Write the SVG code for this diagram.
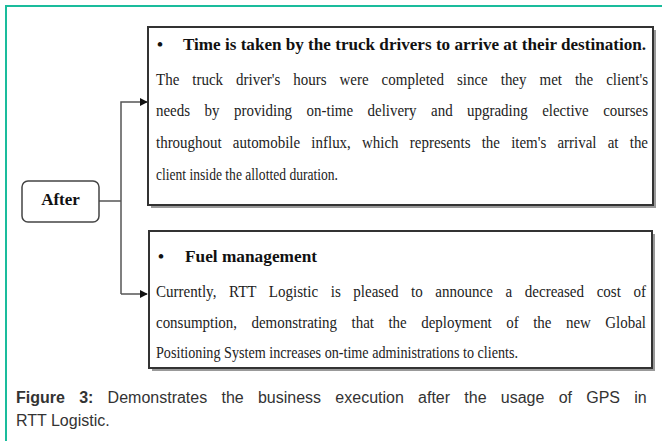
<svg xmlns="http://www.w3.org/2000/svg" width="662" height="441" viewBox="0 0 662 441">
<style>
.frame{fill:none;stroke:#1abc9c;stroke-width:2}
.box{fill:#fff;stroke:#333;stroke-width:2}
.shadow{fill:#999}
.node{fill:#fff;stroke:#444;stroke-width:1.5}
.conn{fill:none;stroke:#555;stroke-width:1.5}
.h{font-family:"Liberation Serif",serif;font-weight:bold;font-size:17px;fill:#111}
.b{font-family:"Liberation Serif",serif;font-size:17px;fill:#222}
.cap{font-family:"Liberation Sans",Arial,sans-serif;font-size:16px;fill:#333}
</style>
<defs>
<marker id="arr" viewBox="0 0 10 10" refX="9" refY="5" markerWidth="8" markerHeight="8" markerUnits="userSpaceOnUse" orient="auto">
<path d="M0,0 L10,5 L0,10 z" fill="#111"/>
</marker>
</defs>
<rect class="frame" x="6" y="6" width="670" height="450"/>
<g id="conns">
<path class="conn" d="M99,201 H121"/>
<path class="conn" d="M121,294 V102 H147" marker-end="url(#arr)"/>
<path class="conn" d="M121,294 H147" marker-end="url(#arr)"/>
</g>
<g id="after">
<rect class="node" x="22" y="181" width="77" height="41" rx="6"/>
<text class="h" x="60.5" y="205" text-anchor="middle" font-size="16">After</text>
</g>
<g id="box1">
<rect class="shadow" x="151" y="30" width="505" height="178"/>
<rect class="box" x="148" y="27" width="505" height="178"/>
<text class="h" x="157" y="50">•</text>
<text class="h" x="183" y="50" textLength="463" lengthAdjust="spacingAndGlyphs">Time is taken by the truck drivers to arrive at their destination.</text>
<text class="b" x="156" y="85" word-spacing="10.5" textLength="492" lengthAdjust="spacingAndGlyphs">The truck driver's hours were completed since they met the client's</text>
<text class="b" x="156" y="116" word-spacing="12.2" textLength="492" lengthAdjust="spacingAndGlyphs">needs by providing on-time delivery and upgrading elective courses</text>
<text class="b" x="156" y="148" word-spacing="8.5" textLength="492" lengthAdjust="spacingAndGlyphs">throughout automobile influx, which represents the item's arrival at the</text>
<text class="b" x="156" y="180" textLength="182" lengthAdjust="spacingAndGlyphs">client inside the allotted duration.</text>
</g>
<g id="box2">
<rect class="shadow" x="152" y="234" width="503" height="137"/>
<rect class="box" x="149" y="231" width="503" height="137"/>
<text class="h" x="158" y="262">•</text>
<text class="h" x="185" y="262" textLength="132" lengthAdjust="spacingAndGlyphs">Fuel management</text>
<text class="b" x="156" y="297" word-spacing="10" textLength="490" lengthAdjust="spacingAndGlyphs">Currently, RTT Logistic is pleased to announce a decreased cost of</text>
<text class="b" x="156" y="328" word-spacing="12.2" textLength="490" lengthAdjust="spacingAndGlyphs">consumption, demonstrating that the deployment of the new Global</text>
<text class="b" x="156" y="358" textLength="362" lengthAdjust="spacingAndGlyphs">Positioning System increases on-time administrations to clients.</text>
</g>
<g id="caption">
<text class="cap" x="16" y="403" word-spacing="9.8"><tspan font-weight="bold">Figure 3:</tspan> Demonstrates the business execution after the usage of GPS in</text>
<text class="cap" x="16" y="426">RTT Logistic.</text>
</g>
</svg>
